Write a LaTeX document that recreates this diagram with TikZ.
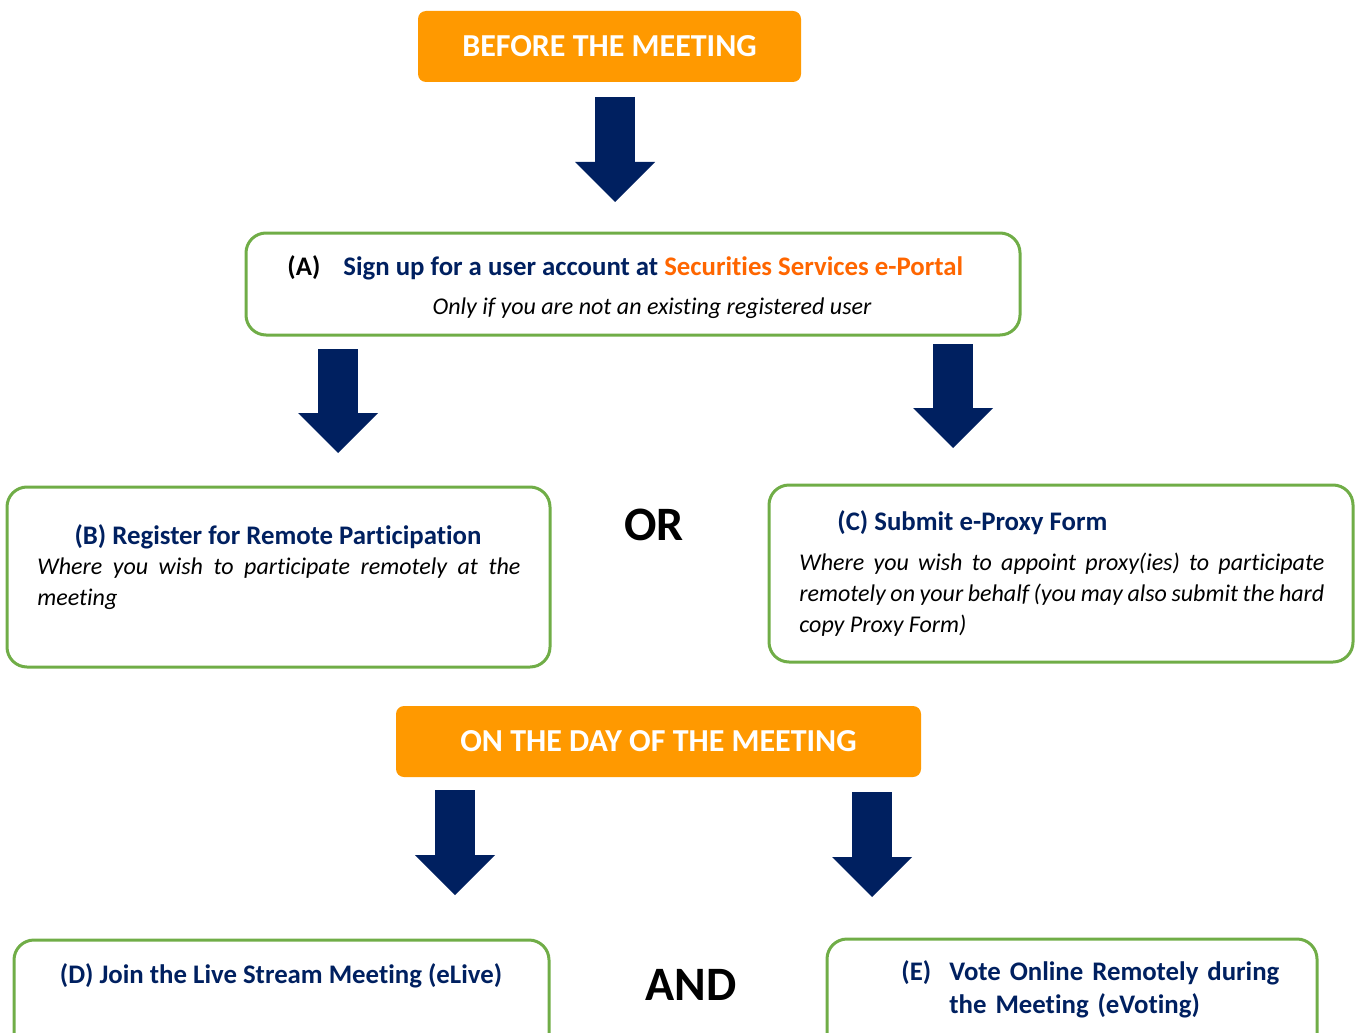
\documentclass[tikz,border=0pt]{standalone}
\usepackage{fontspec}
\setmainfont{Carlito}[Ligatures=NoCommon]
\usetikzlibrary{arrows.meta}
\definecolor{navy}{HTML}{002060}
\definecolor{stageorange}{HTML}{FF9900}
\definecolor{portalorange}{HTML}{FF6600}
\definecolor{stepgreen}{HTML}{70AD47}
\begin{document}
\begin{tikzpicture}[x=0.5pt,y=-0.5pt,line join=round,
    stagebox/.style={fill=stageorange,rounded corners=4pt,text=white,inner sep=0,
      font=\bfseries\fontsize{16}{19}\selectfont},
    stepbox/.style={draw=stepgreen,line width=1.5pt,rounded corners=10pt,inner sep=0},
    bigarrow/.style={navy,line width=20pt,-{Triangle[length=20pt,width=40pt,line width=0pt]}},
    headtext/.style={text=navy,inner sep=0,font=\bfseries\fontsize{13.4}{16.5}\selectfont},
    bodytext/.style={inner sep=0,align=justify,font=\itshape\fontsize{12}{15.6}\selectfont},
    bigword/.style={inner sep=0,font=\bfseries\fontsize{24}{28}\selectfont}]
    \useasboundingbox (0,0) rectangle (1358,1032);
    \clip (0,0) rectangle (1358,1032);
    % stages
    \node[stagebox,minimum width=191.5pt,minimum height=35.5pt] (before) at (609.5,46.5) {BEFORE THE MEETING};
    \node[stagebox,minimum width=262.5pt,minimum height=35.5pt] (dayof) at (658.5,741.5) {ON THE DAY OF THE MEETING};
    % step boxes
    \node[stepbox,minimum width=387pt,minimum height=51pt] (A) at (633,284) {};
    \node[stepbox,minimum width=271.5pt,minimum height=90pt] (B) at (278.5,577) {};
    \node[stepbox,minimum width=292pt,minimum height=88.5pt] (C) at (1061,573.5) {};
    \node[stepbox,minimum width=267.5pt,minimum height=70pt] (D) at (281.5,1010) {};
    \node[stepbox,minimum width=245pt,minimum height=70.5pt] (E) at (1072,1009.5) {};
    % texts
    \node[headtext,text=black,anchor=base west] (Atag) at (287,275) {(A)};
    \node[headtext,anchor=base west] (Ahead) at (343,275) {Sign up for a user account at \textcolor{portalorange}{Securities Services e-Portal}};
    \node[bodytext,anchor=base] (Anote) at (652,314) {Only if you are not an existing registered user};
    \node[headtext,anchor=base] (Bhead) at (278,544) {(B) Register for Remote Participation};
    \node[bodytext,text width=241.5pt,anchor=base west] (Bnote) at (37,574) {Where you wish to participate remotely at the\linebreak meeting};
    \node[headtext,anchor=base west] (Chead) at (837,530) {(C) Submit e-Proxy Form};
    \node[bodytext,text width=262.5pt,anchor=base west] (Cnote) at (799,570) {Where you wish to appoint proxy(ies) to participate\linebreak remotely on your behalf (you may also submit the hard\linebreak copy Proxy Form)};
    \node[headtext,anchor=base] (Dhead) at (281,983) {(D) Join the Live Stream Meeting (eLive)};
    \node[headtext,anchor=base west] (Etag) at (901,980) {(E)};
    \node[headtext,anchor=base west,text width=170pt,align=left] (Ehead) at (949,980) {Vote Online Remotely during\\the Meeting (eVoting)};
    \node[bigword] (or) at (654,525) {OR};
    \node[bigword] (and) at (691,985) {AND};
    % block arrows
    \foreach \n/\x/\ya/\yb in {1/615/97/202,2/338/349/453,3/953/344/448,4/455/790/895,5/872/792/897}{
        \coordinate (from\n) at (\x,\ya);
        \coordinate (to\n) at (\x,\yb);
        \draw[bigarrow] (from\n) -- (to\n);
    }
\end{tikzpicture}
\end{document}
